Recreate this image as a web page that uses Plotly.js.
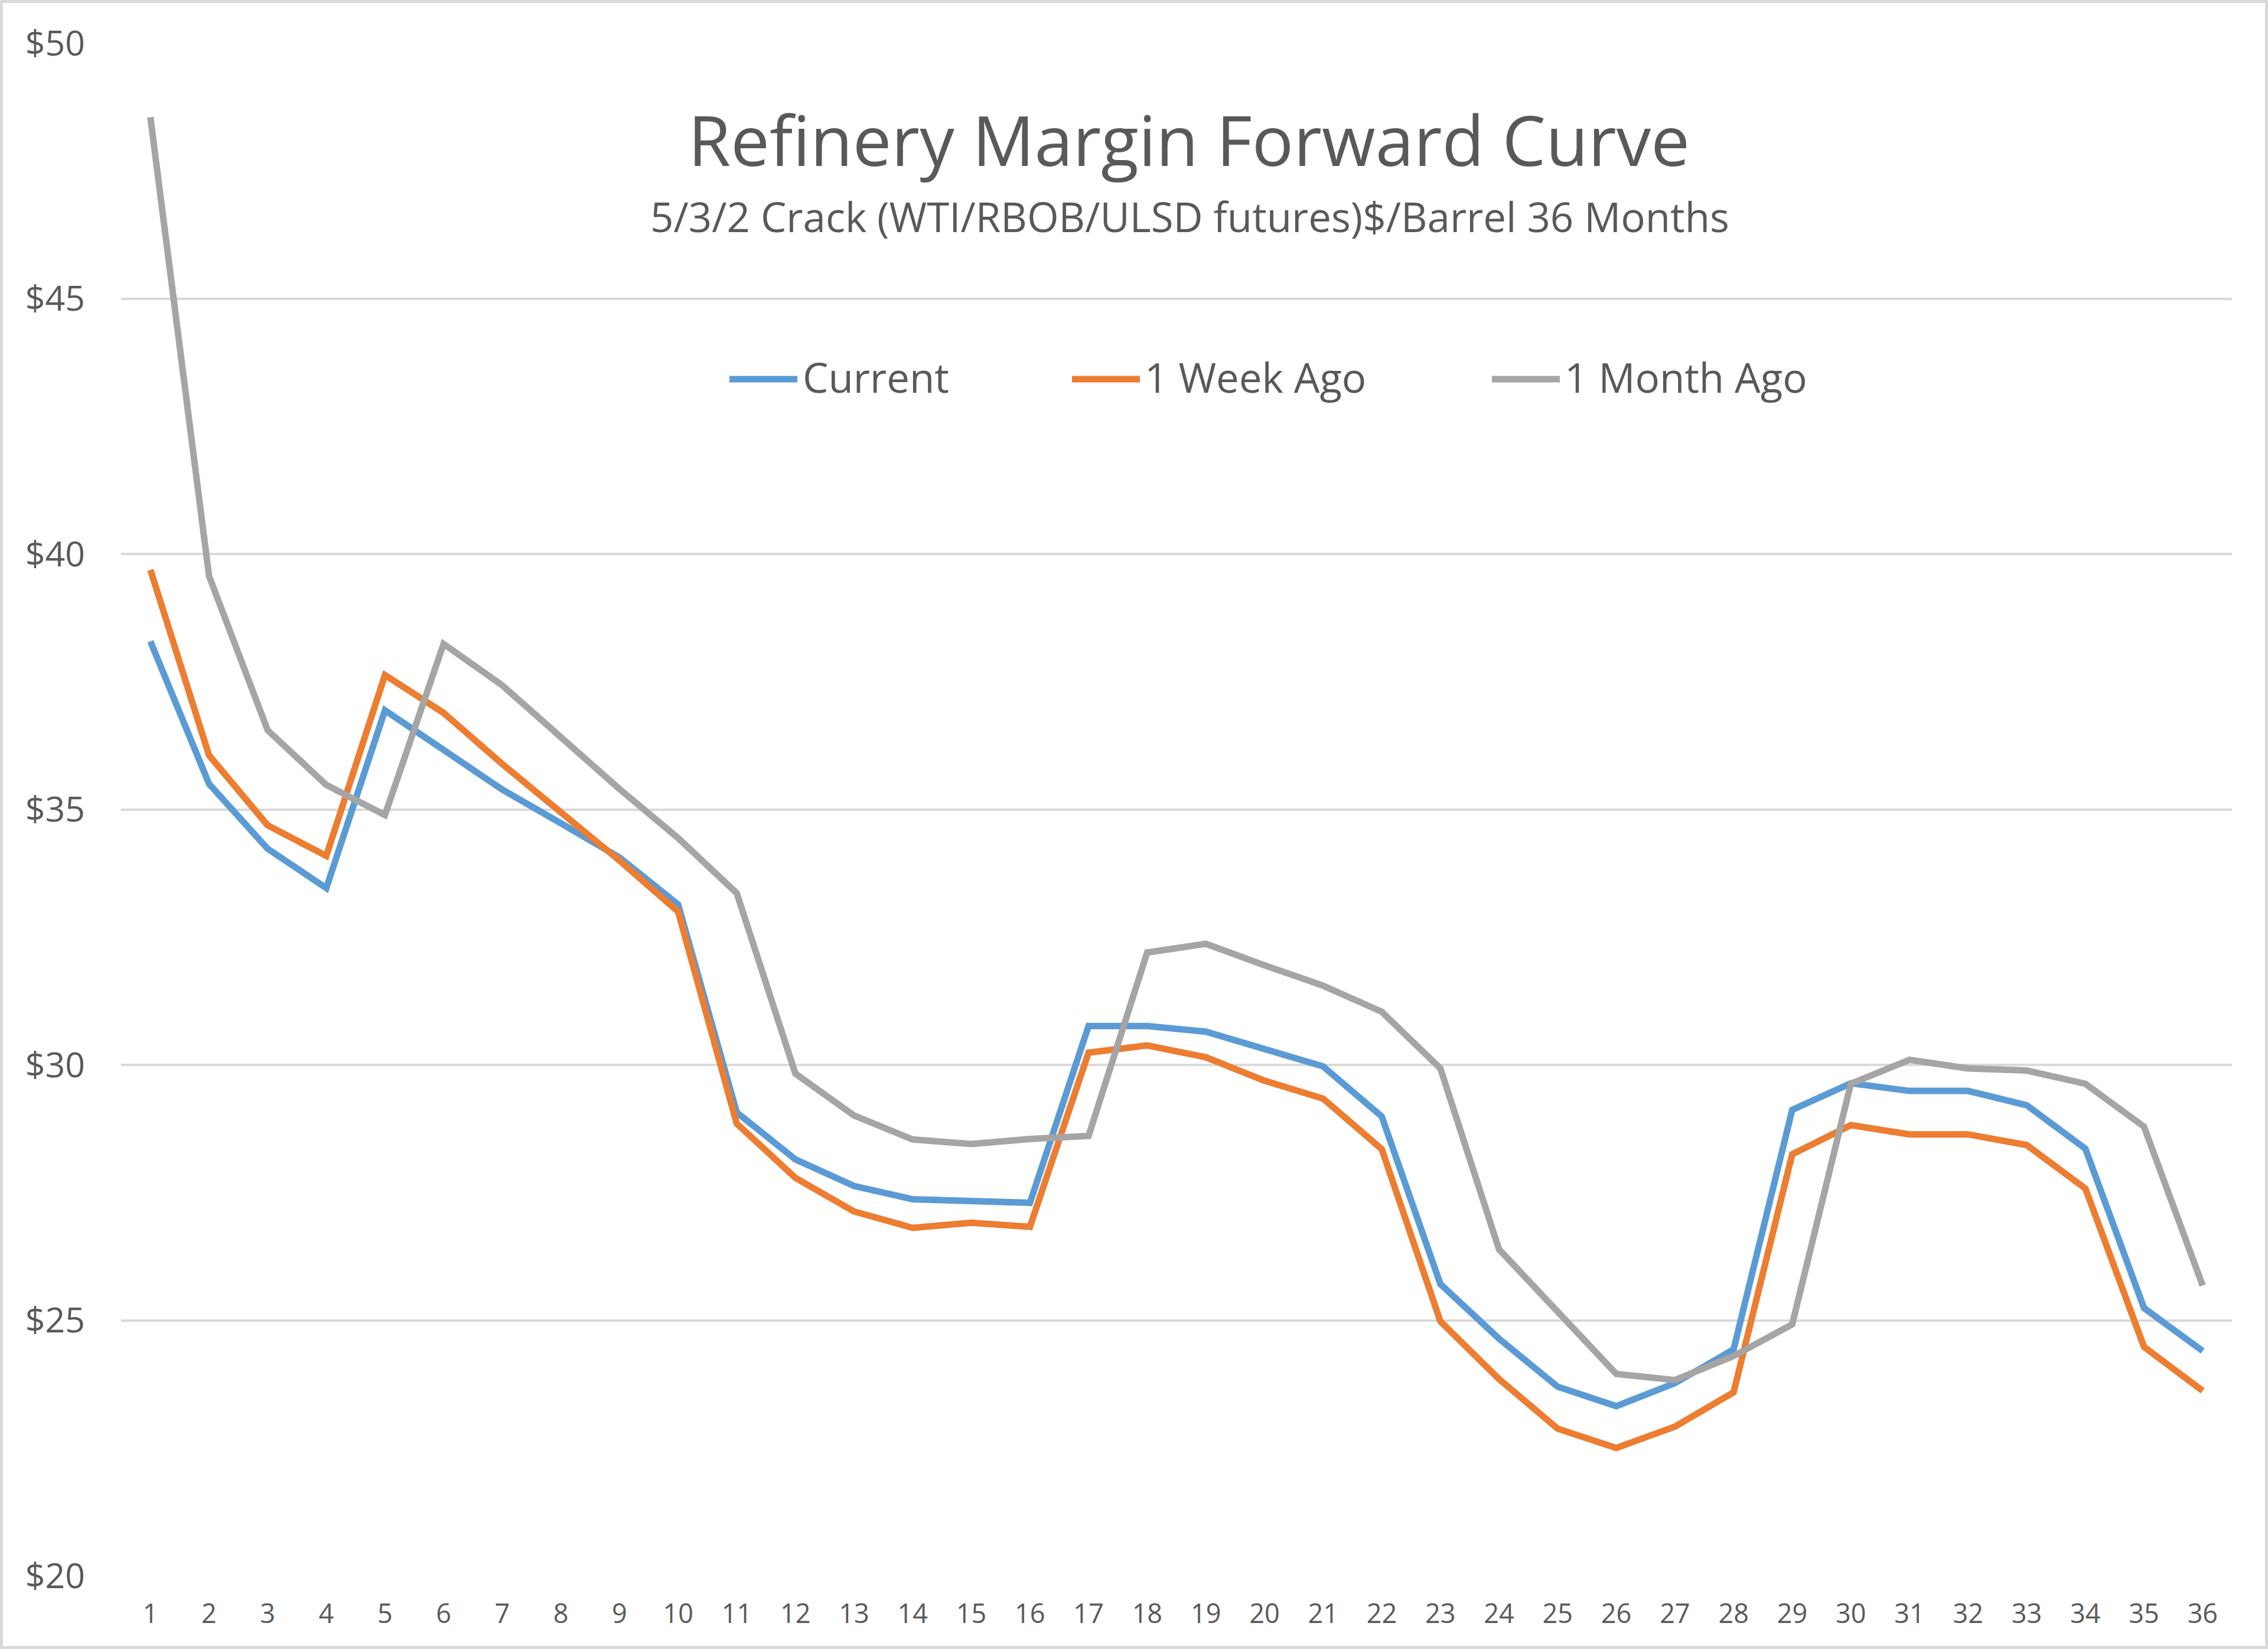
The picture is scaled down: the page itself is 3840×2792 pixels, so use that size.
<!DOCTYPE html>
<html>
<head>
<meta charset="utf-8">
<script src="https://cdn.plot.ly/plotly-3.0.1.min.js"></script>
<style>
  html, body { margin: 0; padding: 0; background: #ffffff; }
  #chart { width: 3840px; height: 2792px; }
</style>
</head>
<body>
<div id="chart"></div>
<script>
// ---- Data ----
const months = [1,2,3,4,5,6,7,8,9,10,11,12,13,14,15,16,17,18,19,20,21,22,23,24,25,26,27,28,29,30,31,32,33,34,35,36];

const current = [38.29, 35.50, 34.23, 33.46, 36.94, 36.17, 35.39, 34.73, 34.06, 33.14,
                 29.07, 28.15, 27.63, 27.37, 27.34, 27.30, 30.76, 30.76, 30.65, 30.31,
                 29.97, 28.99, 25.71, 24.64, 23.70, 23.32, 23.77, 24.43, 29.12, 29.64,
                 29.49, 29.49, 29.21, 28.36, 25.24, 24.40];

const weekAgo = [39.69, 36.06, 34.69, 34.09, 37.63, 36.89, 35.89, 34.95, 34.00, 33.00,
                 28.85, 27.79, 27.13, 26.81, 26.91, 26.83, 30.24, 30.38, 30.15, 29.69,
                 29.34, 28.35, 24.98, 23.85, 22.88, 22.50, 22.92, 23.59, 28.25, 28.82,
                 28.64, 28.64, 28.43, 27.58, 24.48, 23.62];

const monthAgo = [48.55, 39.57, 36.55, 35.48, 34.89, 38.24, 37.43, 36.40, 35.40, 34.44,
                  33.36, 29.83, 29.01, 28.54, 28.45, 28.55, 28.61, 32.20, 32.37, 31.95,
                  31.55, 31.04, 29.93, 26.39, 25.15, 23.95, 23.83, 24.30, 24.92, 29.63,
                  30.10, 29.93, 29.89, 29.63, 28.79, 25.68];

const seriesNames = ["Current", "1 Week Ago", "1 Month Ago"];
const yTicks = [20, 25, 30, 35, 40, 45, 50];
const titleText = "Refinery Margin Forward Curve";
const subtitleText = "5/3/2 Crack (WTI/RBOB/ULSD futures)$/Barrel 36 Months";

// ---- Styling ----
const colors = ["#5b9bd5", "#ed7d31", "#a5a5a5"];
const FONT = "'Open Sans', 'Noto Sans', sans-serif";
const TEXT = "#595959";
const W = 3840, H = 2792;
const M = { l: 205, r: 61, t: 73, b: 124 };
const PW = W - M.l - M.r, PH = H - M.t - M.b;
const px = x => (x - M.l) / PW;          // pixel -> paper x
const py = y => (H - M.b - y) / PH;      // pixel -> paper y

const allSeries = [current, weekAgo, monthAgo];
const traces = allSeries.map((vals, i) => ({
  type: "scatter",
  mode: "lines",
  x: months,
  y: vals,
  name: seriesNames[i],
  line: { color: colors[i], width: 11, shape: "linear" },
  showlegend: false,
  hoverinfo: "x+y+name"
}));

// Manual legend (longer line keys like the reference)
const legendItems = [
  { x0: 1235, x1: 1350, tx: 1357 },
  { x0: 1815, x1: 1930, tx: 1936 },
  { x0: 2526, x1: 2641, tx: 2647 }
];
const legendY = 642;

const shapes = [
  // chart area border
  { type: "rect", xref: "paper", yref: "paper",
    x0: px(2.5), x1: px(W - 2.5), y0: py(H - 2.5), y1: py(2.5),
    line: { color: "#d9d9d9", width: 5 }, fillcolor: "rgba(0,0,0,0)", layer: "below" }
];
const annotations = [
  { xref: "paper", yref: "paper", x: px(2014), y: py(366), xanchor: "center", yanchor: "middle",
    text: subtitleText, showarrow: false, font: { family: FONT, size: 69, color: TEXT } }
];
legendItems.forEach((it, i) => {
  shapes.push({ type: "line", xref: "paper", yref: "paper",
    x0: px(it.x0), x1: px(it.x1), y0: py(legendY), y1: py(legendY),
    line: { color: colors[i], width: 11 } });
  annotations.push({ xref: "paper", yref: "paper", x: px(it.tx), y: py(legendY - 4),
    xanchor: "left", yanchor: "middle", text: seriesNames[i], showarrow: false,
    font: { family: FONT, size: 69, color: TEXT } });
});

const layout = {
  width: W, height: H,
  margin: M,
  paper_bgcolor: "#ffffff",
  plot_bgcolor: "#ffffff",
  font: { family: FONT, color: TEXT },
  showlegend: false,
  title: {
    text: titleText,
    font: { family: FONT, size: 117, color: TEXT },
    x: px(2013), xref: "paper", xanchor: "center",
    y: 1 - 240 / H, yref: "container", yanchor: "middle"
  },
  xaxis: {
    range: [0.5, 36.5],
    tickmode: "array",
    tickvals: months,
    ticktext: months.map(String),
    showgrid: false,
    zeroline: false,
    showline: false,
    ticks: "",
    ticklabelstandoff: 34,
    tickfont: { family: FONT, size: 45, color: TEXT },
    fixedrange: true
  },
  yaxis: {
    range: [20, 50],
    tickmode: "array",
    tickvals: yTicks,
    ticktext: yTicks.map(v => "$" + v),
    showgrid: true,
    gridcolor: "#d9d9d9",
    gridwidth: 4,
    zeroline: false,
    showline: false,
    ticks: "",
    ticklabelstandoff: 60,
    tickfont: { family: FONT, size: 59, color: TEXT },
    fixedrange: true
  },
  shapes: shapes,
  annotations: annotations
};

Plotly.newPlot("chart", traces, layout, { displayModeBar: false, staticPlot: true });
</script>
</body>
</html>
